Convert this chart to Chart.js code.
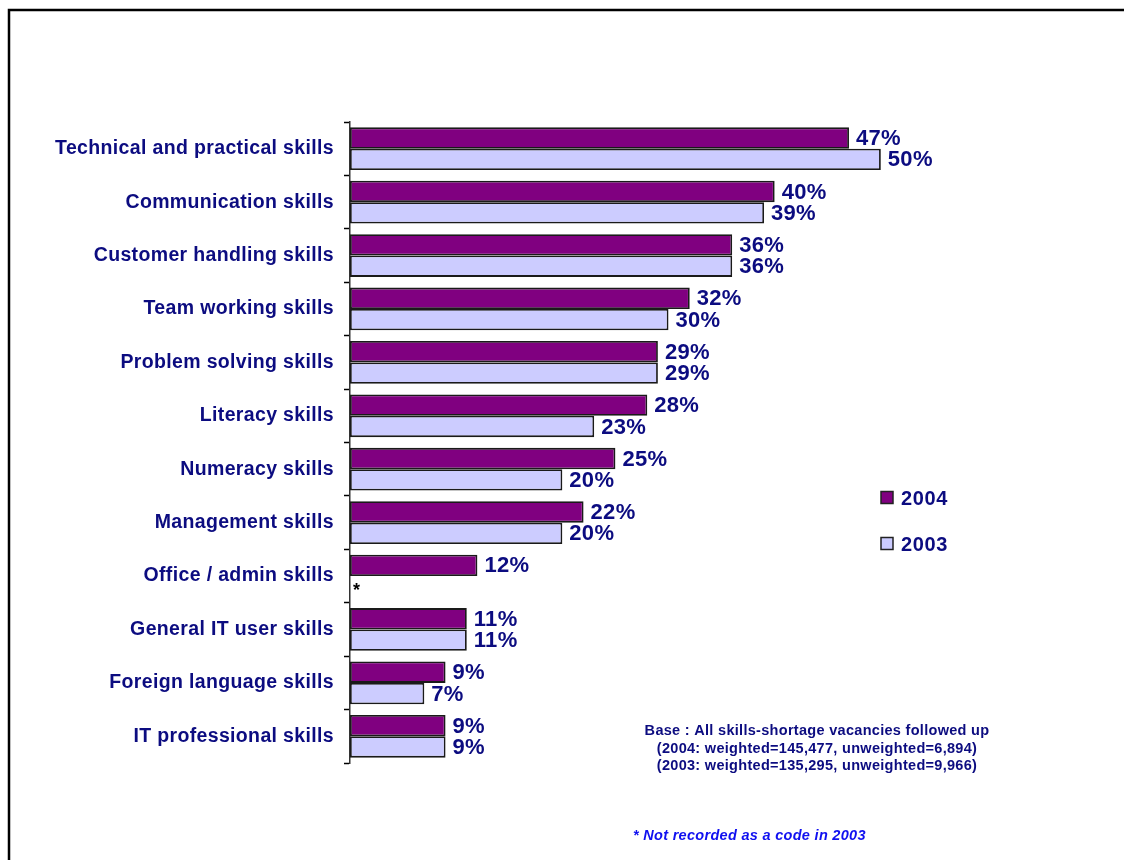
<!DOCTYPE html>
<html>
<head>
<meta charset="utf-8">
<title>Skills lacking in skills-shortage vacancies</title>
<script src="https://cdn.jsdelivr.net/npm/chart.js@4/dist/chart.umd.min.js"></script>
<style>
  html, body { margin: 0; padding: 0; background: #fff; }
  #wrap { width: 1124px; height: 860px; position: relative; }
</style>
</head>
<body>
<div id="wrap"><canvas id="skillsChart" width="1124" height="860"></canvas></div>
<script>
// Skills found lacking, share of skills-shortage vacancies (%)
const skills = [
    "Technical and practical skills",
    "Communication skills",
    "Customer handling skills",
    "Team working skills",
    "Problem solving skills",
    "Literacy skills",
    "Numeracy skills",
    "Management skills",
    "Office / admin skills",
    "General IT user skills",
    "Foreign language skills",
    "IT professional skills"
];
const values2004 = [47, 40, 36, 32, 29, 28, 25, 22, 12, 11, 9, 9];
const values2003 = [50, 39, 36, 30, 29, 23, 20, 20, null, 11, 7, 9];

const baseNote = [
    "Base : All skills-shortage vacancies followed up",
    "(2004: weighted=145,477, unweighted=6,894)",
    "(2003: weighted=135,295, unweighted=9,966)"
];
const footNote = "* Not recorded as a code in 2003";

const NAVY = "#0c0c80";
const FONT = "'Liberation Sans', Arial, sans-serif";

// slightly wider spacing for the category names on the left
const spacedTicks = {
    id: "spacedTicks",
    beforeDraw(chart) {
        chart.ctx.letterSpacing = "0.35px";
    }
};

// value labels at the bar ends, "*" where there is no 2003 figure
const valueLabels = {
    id: "valueLabels",
    afterDatasetsDraw(chart) {
        const ctx = chart.ctx;
        const xScale = chart.scales.x;
        ctx.save();
        ctx.letterSpacing = "0.3px";
        ctx.textBaseline = "middle";
        ctx.textAlign = "left";
        chart.data.datasets.forEach((ds, di) => {
            const meta = chart.getDatasetMeta(di);
            meta.data.forEach((bar, i) => {
                const v = ds.data[i];
                if (v === null) {
                    ctx.font = "bold 18px " + FONT;
                    ctx.fillStyle = "#000";
                    ctx.fillText("*", xScale.getPixelForValue(0) + 3, bar.y + 4);
                    return;
                }
                ctx.font = "bold 22px " + FONT;
                ctx.fillStyle = NAVY;
                ctx.fillText(v + "%", bar.x + 7, bar.y + 1);
            });
        });
        ctx.restore();
    }
};

// outer frame, legend boxes and the notes under the chart
const extras = {
    id: "extras",
    afterDraw(chart) {
        const ctx = chart.ctx;
        ctx.save();

        ctx.strokeStyle = "#000";
        ctx.lineWidth = 2.5;
        ctx.beginPath();
        ctx.moveTo(9, 860);
        ctx.lineTo(9, 10);
        ctx.lineTo(1124, 10);
        ctx.stroke();

        const legendY = [498, 544];
        ctx.letterSpacing = "0.6px";
        ctx.font = "bold 20px " + FONT;
        ctx.textBaseline = "middle";
        ctx.textAlign = "left";
        chart.data.datasets.forEach((ds, di) => {
            const y = legendY[di];
            ctx.fillStyle = ds.backgroundColor;
            ctx.fillRect(881, y - 6.5, 12, 12);
            ctx.strokeStyle = "#222";
            ctx.lineWidth = 1.5;
            ctx.strokeRect(881, y - 6.5, 12, 12);
            ctx.fillStyle = NAVY;
            ctx.fillText(ds.label, 901, y + 1);
        });

        ctx.letterSpacing = "0.3px";
        ctx.font = "bold 14.5px " + FONT;
        ctx.textAlign = "center";
        ctx.fillStyle = NAVY;
        baseNote.forEach((line, i) => {
            ctx.fillText(line, 817, 731 + i * 17.5);
        });

        ctx.font = "italic bold 14.5px " + FONT;
        ctx.textAlign = "left";
        ctx.fillStyle = "#1010f0";
        ctx.fillText(footNote, 633, 836);

        ctx.restore();
    }
};

const ctx = document.getElementById("skillsChart").getContext("2d");

const skillsChart = new Chart(ctx, {
    type: "bar",
    data: {
        labels: skills,
        datasets: [
            {
                label: "2004",
                data: values2004,
                backgroundColor: "#800080",
                borderColor: "#1a1a1a",
                borderWidth: 1.8,
                borderSkipped: false,
                categoryPercentage: 0.8,
                barPercentage: 1.0
            },
            {
                label: "2003",
                data: values2003,
                backgroundColor: "#ccccff",
                borderColor: "#1a1a1a",
                borderWidth: 1.8,
                borderSkipped: false,
                categoryPercentage: 0.8,
                barPercentage: 1.0
            }
        ]
    },
    options: {
        indexAxis: "y",
        responsive: false,
        animation: false,
        layout: {
            padding: { left: 0, top: 122, bottom: 97, right: 137 }
        },
        plugins: {
            legend: { display: false },
            tooltip: { enabled: false }
        },
        scales: {
            x: {
                display: false,
                min: 0,
                max: 60
            },
            y: {
                afterFit(scale) { scale.width = 350; },
                grid: {
                    drawOnChartArea: false,
                    drawTicks: true,
                    tickLength: 6,
                    tickWidth: 1.5,
                    tickColor: "#000",
                    offset: true
                },
                border: { display: true, color: "#333", width: 1.5 },
                ticks: {
                    color: NAVY,
                    padding: 10,
                    font: { family: FONT, size: 19.5, weight: "bold" }
                }
            }
        }
    },
    plugins: [spacedTicks, valueLabels, extras]
});
</script>
</body>
</html>
